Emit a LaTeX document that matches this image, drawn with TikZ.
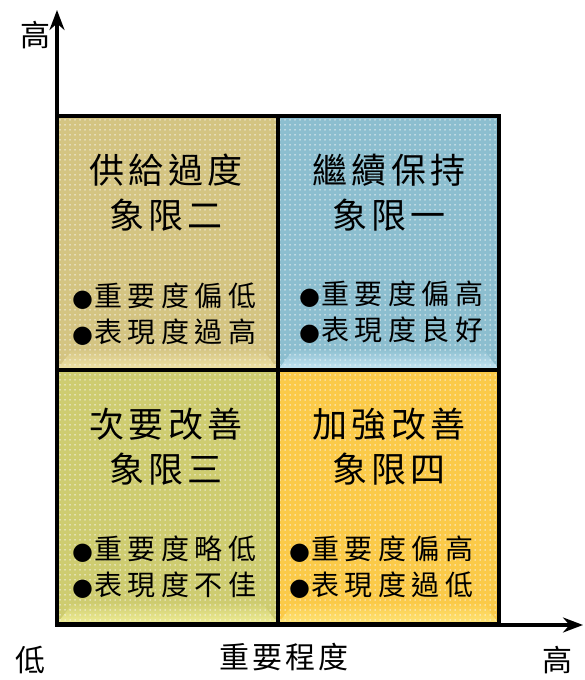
\documentclass[tikz,border=0pt]{standalone}
\usepackage{fontspec}
\newfontfamily\cjkT{Noto Sans CJK TC}[LetterSpace=12]
\newfontfamily\cjkB{Noto Sans CJK TC}[LetterSpace=20]
\newfontfamily\cjkA{Noto Sans CJK TC}[LetterSpace=10]
\newfontfamily\dotfont{DejaVu Sans}
\newcommand{\bul}{{\dotfont\fontsize{24}{36}\selectfont ●}\hspace{1pt}}
\usetikzlibrary{patterns.meta,arrows.meta,backgrounds}
\definecolor{cTL}{RGB}{212,196,130}
\definecolor{cTR}{RGB}{140,190,207}
\definecolor{cBL}{RGB}{206,204,112}
\definecolor{cBR}{RGB}{251,202,72}
\definecolor{lTL}{RGB}{244,232,172}
\definecolor{lTR}{RGB}{205,236,250}
\definecolor{lBL}{RGB}{244,242,155}
\definecolor{lBR}{RGB}{255,232,125}
\begin{document}
\begin{tikzpicture}[x=1pt,y=1pt,
  quad/.style={rectangle, draw=black, line width=4pt, inner sep=0pt,
    minimum width=221pt, minimum height=254pt},
  title/.style={font=\cjkT\fontsize{35}{45}\selectfont, align=center, inner sep=0pt},
  bullet/.style={font=\cjkB\fontsize{28}{36}\selectfont, align=left, anchor=west, inner sep=0pt},
  axislbl/.style={font=\cjkA\fontsize{30}{34}\selectfont, inner sep=0pt},
  axis/.style={line width=4pt, -{Stealth[length=20pt,width=15pt]}},
  dotsp/.style={pattern={Dots[radius=0.75pt,distance=5pt]}, pattern color=white!95!gray}
]
\useasboundingbox (0,0) rectangle (584,680);

% quadrants
\node[quad] (tl) at (167.5,436.5) {};
\node[quad] (tr) at (388.5,436.5) {};
\node[quad] (bl) at (167.5,182.5) {};
\node[quad] (br) at (388.5,182.5) {};

\begin{pgfonlayer}{background}
  \foreach \q/\c/\l in {tl/cTL/lTL, tr/cTR/lTR, bl/cBL/lBL, br/cBR/lBR}{
    \fill[\c] (\q.south west) rectangle (\q.north east);
    \shade[top color=\c, bottom color=\l]
      (\q.south west) -- ([shift={(18,24)}]\q.south west)
      -- ([shift={(-18,24)}]\q.south east) -- (\q.south east) -- cycle;
    \fill[dotsp] (\q.south west) rectangle (\q.north east);
  }
\end{pgfonlayer}

% axes
\coordinate (o) at (57,53);
\coordinate (ytop) at (57,670);
\coordinate (xend) at (583,55);
\draw[axis] (o) -- (ytop);
\draw[axis] (55,55) -- (xend);

% axis labels
\node[axislbl] (yhigh) at (35,645) {高};
\node[axislbl] (xlow) at (30,20) {低};
\node[axislbl] (xhigh) at (557,20) {高};
\node[axislbl] (xname) at (284,23) {重要程度};

% quadrant texts
\node[title] (t2) at (166,487) {供給過度\\象限二};
\node[title] (t1) at (389,487) {繼續保持\\象限一};
\node[title] (t3) at (166,233) {次要改善\\象限三};
\node[title] (t4) at (389,233) {加強改善\\象限四};

\node[bullet] (b2) at (72,366) {\bul 重要度偏低\\\bul 表現度過高};
\node[bullet] (b1) at (299,368) {\bul 重要度偏高\\\bul 表現度良好};
\node[bullet] (b3) at (72,113) {\bul 重要度略低\\\bul 表現度不佳};
\node[bullet] (b4) at (289,113) {\bul 重要度偏高\\\bul 表現度過低};
\end{tikzpicture}
\end{document}
